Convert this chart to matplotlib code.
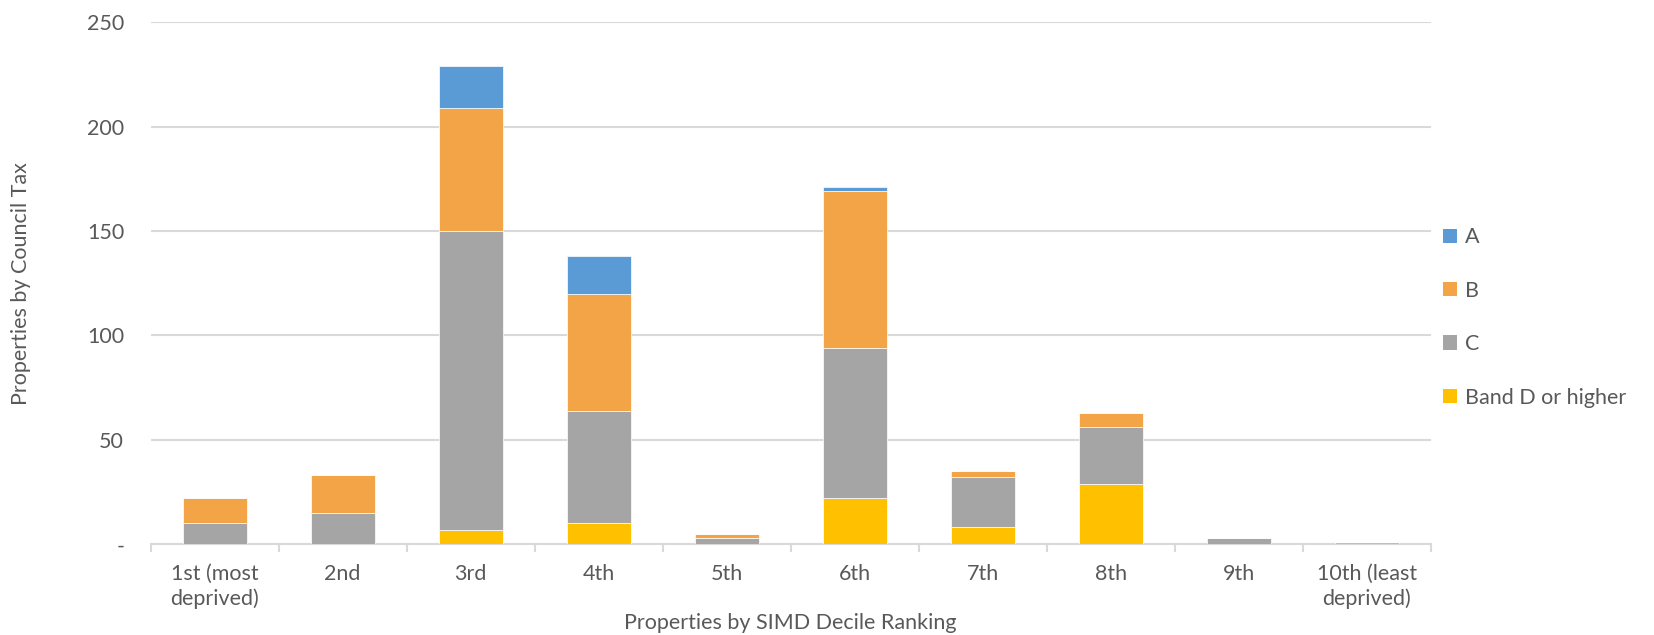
import matplotlib.pyplot as plt
import numpy as np
from matplotlib.patches import Patch

deciles = ["1st (most\ndeprived)", "2nd", "3rd", "4th", "5th", "6th", "7th", "8th", "9th", "10th (least\ndeprived)"]
band_d = [0, 0, 7, 10, 0, 22, 8, 29, 0, 1]
band_c = [10, 15, 143, 54, 3, 72, 24, 27, 3, 0]
band_b = [12, 18, 59, 56, 2, 75, 3, 7, 0, 0]
band_a = [0, 0, 20, 18, 0, 2, 0, 0, 0, 0]

series = [("Band D or higher", band_d, "#FFC000"),
          ("C", band_c, "#A5A5A5"),
          ("B", band_b, "#F2A446"),
          ("A", band_a, "#5B9BD5")]

plt.rcParams['font.family'] = ['Lato', 'DejaVu Sans']
txt = "#595959"
fs = 15.5

fig = plt.figure(figsize=(16.54, 6.35), dpi=100)
ax = fig.add_axes([0.091, 0.143, 0.774, 0.822])

x = np.arange(len(deciles))
bottom = np.zeros(len(deciles))
for name, vals, col in series:
    vals = np.array(vals, dtype=float)
    ax.bar(x, vals, 0.5, bottom=bottom, color=col, edgecolor="white", linewidth=0.5, zorder=3)
    bottom += vals

ax.set_xlim(-0.5, len(deciles) - 0.5)
ax.set_ylim(0, 250)
ax.set_yticks(np.arange(0, 251, 50))
ax.set_yticklabels(["-"] + [str(v) for v in range(50, 251, 50)])
ax.yaxis.grid(True, color="#D9D9D9", linewidth=1.5, zorder=0)
ax.tick_params(axis="y", length=0, pad=19, labelsize=fs, labelcolor=txt)

ax.set_xticks(x)
ax.set_xticklabels(deciles, linespacing=1.3)
ax.set_xticks(np.arange(-0.5, len(deciles), 1), minor=True)
ax.tick_params(axis="x", which="major", length=0, pad=14, labelsize=fs, labelcolor=txt)
ax.tick_params(axis="x", which="minor", length=6, width=1.5, color="#D9D9D9")

for s in ["top", "right", "left"]:
    ax.spines[s].set_visible(False)
ax.spines["bottom"].set_color("#D9D9D9")
ax.spines["bottom"].set_linewidth(1.5)

ax.set_xlabel("Properties by SIMD Decile Ranking", fontsize=fs, color=txt, labelpad=3)
ax.set_ylabel("Properties by Council Tax", fontsize=fs, color=txt, labelpad=40)

handles = [Patch(facecolor=col, label=name) for name, vals, col in series[::-1]]
fig.legend(handles=handles, loc="center left", bbox_to_anchor=(0.861, 0.50), frameon=False,
           fontsize=fs, labelcolor=txt, handlelength=0.65, handleheight=0.65,
           handletextpad=0.35, labelspacing=1.55)

fig.savefig("out.png", dpi=100)
